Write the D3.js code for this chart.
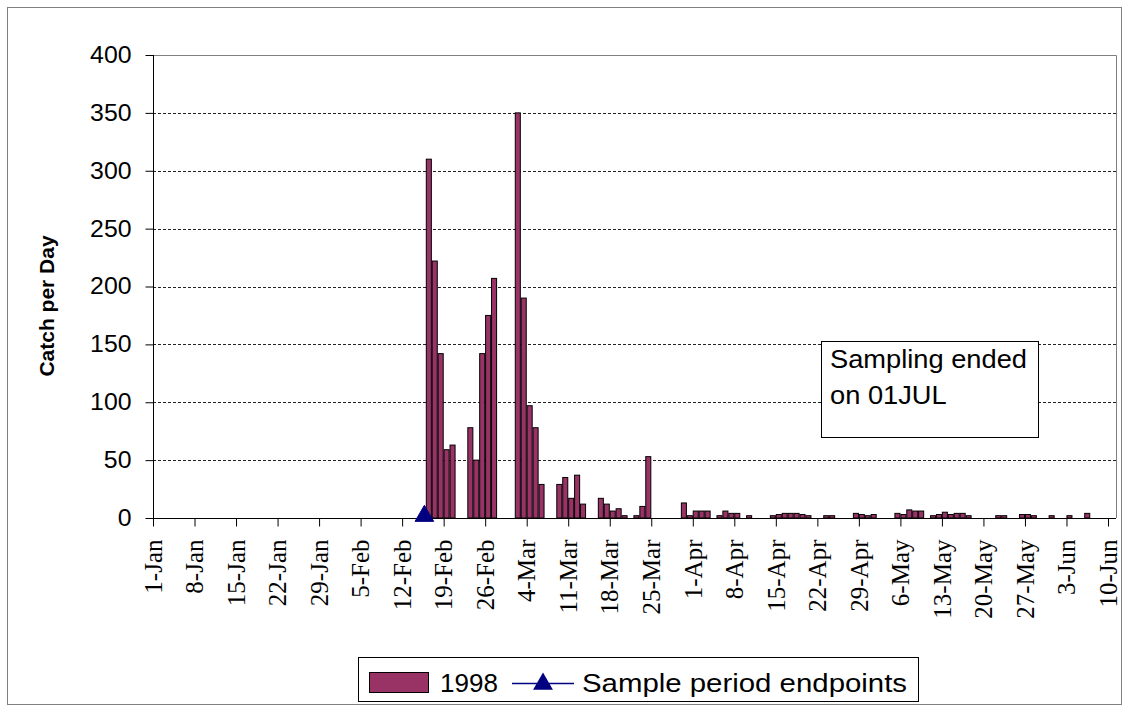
<!DOCTYPE html>
<html>
<head>
<meta charset="utf-8">
<script src="https://cdn.jsdelivr.net/npm/d3@7"></script>
<style>
  html, body { margin: 0; padding: 0; background: #fff; }
  svg { display: block; }
</style>
</head>
<body>
<svg id="chart" width="1130" height="713"></svg>
<script>
// ---------- DATA ----------
const catchDates = ["16-Feb","17-Feb","18-Feb","19-Feb","20-Feb","23-Feb","24-Feb","25-Feb","26-Feb","27-Feb",
  "2-Mar","3-Mar","4-Mar","5-Mar","6-Mar","9-Mar","10-Mar","11-Mar","12-Mar","13-Mar",
  "16-Mar","17-Mar","18-Mar","19-Mar","20-Mar","22-Mar","23-Mar","24-Mar","30-Mar","31-Mar",
  "1-Apr","2-Apr","3-Apr","5-Apr","6-Apr","7-Apr","8-Apr","10-Apr","14-Apr","15-Apr",
  "16-Apr","17-Apr","18-Apr","19-Apr","20-Apr","23-Apr","24-Apr","28-Apr","29-Apr","30-Apr",
  "1-May","5-May","6-May","7-May","8-May","9-May","11-May","12-May","13-May","14-May",
  "15-May","16-May","17-May","22-May","23-May","26-May","27-May","28-May","31-May","3-Jun","6-Jun"];
const catch1998 = [310,222,142,59,63,78,50,142,175,207,
  350,190,97,78,29,29,35,17,37,12,
  17,12,6,8,2,2,10,53,13,2,
  6,6,6,2,6,4,4,2,2,3,
  4,4,4,3,2,2,2,4,3,2,
  3,4,3,7,6,6,2,3,5,3,
  4,4,2,2,2,3,3,2,2,2,4];
const endpointDates = ["15-Feb","1-Jul"];
const endpointValues = [0, 0];
const yTickValues = [0,50,100,150,200,250,300,350,400];
const xTickLabels = ["1-Jan","8-Jan","15-Jan","22-Jan","29-Jan","5-Feb","12-Feb","19-Feb","26-Feb","4-Mar",
  "11-Mar","18-Mar","25-Mar","1-Apr","8-Apr","15-Apr","22-Apr","29-Apr","6-May","13-May",
  "20-May","27-May","3-Jun","10-Jun"];
const seriesNames = ["1998", "Sample period endpoints"];
const noteLines = ["Sampling ended", "on 01JUL"];
const yTitle = "Catch per Day";

// ---------- SETUP ----------
// axis dates fall on a leap-year calendar (26-Feb + 7 days = 4-Mar)
const parse = s => d3.timeParse("%d-%b-%Y")(s + "-2000");
const svg = d3.select("#chart");
const plot = {left: 153, right: 1116, top: 55, bottom: 518};
const BAR = "#993366", NAVY = "#000080";
const sans = "'Liberation Sans', Arial, sans-serif";
const serif = "'Liberation Serif', 'Times New Roman', serif";

function stretch(sel, k) {
  sel.each(function() {
    const len = this.getComputedTextLength();
    d3.select(this).attr("textLength", len * k).attr("lengthAdjust", "spacingAndGlyphs");
  });
}

// outer chart border
svg.append("rect").attr("x", 7.5).attr("y", 7.5).attr("width", 1114).attr("height", 697)
  .attr("fill", "#fff").attr("stroke", "#808080").attr("stroke-width", 1);

const xTicks = xTickLabels.map(parse);
const t0 = xTicks[0], tLast = xTicks[xTicks.length - 1];
const x = d3.scaleTime().domain([t0, tLast]).range([plot.left, 1108]);
const y = d3.scaleLinear().domain([0, 400]).range([plot.bottom, plot.top]);
const dayPx = x(d3.timeDay.offset(t0, 1)) - x(t0);

// gridlines
svg.append("g").selectAll("line").data(yTickValues.filter(v => v > 0 && v < 400)).join("line")
  .attr("x1", plot.left).attr("x2", plot.right)
  .attr("y1", d => Math.round(y(d)) + 0.5).attr("y2", d => Math.round(y(d)) + 0.5)
  .attr("stroke", "#222").attr("stroke-width", 1).attr("stroke-dasharray", "3,2");

// plot frame top & right
svg.append("path")
  .attr("d", `M${plot.left},${plot.top + 0.5}H${plot.right + 0.5}V${plot.bottom}`)
  .attr("fill", "none").attr("stroke", "#808080").attr("stroke-width", 1);

// bars
const barW = dayPx * 0.85;
svg.append("g").selectAll("rect").data(catchDates.map((d, i) => ({date: parse(d), v: catch1998[i]}))).join("rect")
  .attr("x", d => x(d3.timeHour.offset(d.date, 12)) - barW / 2)
  .attr("y", d => y(d.v))
  .attr("width", barW)
  .attr("height", d => y(0) - y(d.v))
  .attr("fill", BAR).attr("stroke", "#000").attr("stroke-width", 1);

// x axis
const xAxis = d3.axisBottom(x).tickValues(xTicks).tickSize(8).tickFormat(d3.timeFormat("%-d-%b"));
const gx = svg.append("g").attr("transform", `translate(0,${plot.bottom + 0.5})`).call(xAxis);
gx.select(".domain").attr("d", `M${plot.left},0H${plot.right}`).attr("stroke", "#000");
gx.selectAll(".tick line").attr("stroke", "#000");
gx.selectAll(".tick text")
  .attr("font-family", serif).attr("font-size", 25).attr("fill", "#000")
  .attr("text-anchor", "end")
  .attr("transform", "rotate(-90)")
  .attr("x", -21).attr("y", 0).attr("dy", "0.33em");

// y axis
const yAxis = d3.axisLeft(y).tickValues(yTickValues).tickSize(8).tickPadding(14);
const gy = svg.append("g").attr("transform", `translate(${plot.left + 0.5},0)`).call(yAxis);
gy.select(".domain").attr("stroke", "#000").attr("d", `M0,${plot.top}V${plot.bottom}`);
gy.selectAll(".tick line").attr("stroke", "#000");
gy.selectAll(".tick text").attr("font-family", sans).attr("font-size", 23).attr("fill", "#000");
stretch(gy.selectAll(".tick text"), 1.08);

// y title
svg.append("text")
  .attr("transform", `translate(54,306) rotate(-90)`)
  .attr("text-anchor", "middle")
  .attr("font-family", sans).attr("font-weight", "bold").attr("font-size", 21)
  .text(yTitle);

// endpoint markers (only those inside the axis range)
const tri = d3.symbol().type(d3.symbolTriangle).size(150);
const xMaxDate = d3.timeDay.offset(tLast, 1);
svg.append("g").selectAll("path")
  .data(endpointDates.map((d, i) => ({date: parse(d), v: endpointValues[i]})).filter(d => d.date <= xMaxDate))
  .join("path")
  .attr("d", tri)
  .attr("transform", d => `translate(${x(d3.timeHour.offset(d.date, 12)) + 1.5},${y(d.v) - 2})`)
  .attr("fill", NAVY).attr("stroke", NAVY);

// note box
svg.append("rect").attr("x", 821.5).attr("y", 341.5).attr("width", 217).attr("height", 96)
  .attr("fill", "#fff").attr("stroke", "#000");
const note = svg.append("text").attr("font-family", sans).attr("font-size", 25).attr("fill", "#000");
noteLines.forEach((l, i) => {
  note.append("tspan").attr("x", 830).attr("y", 368 + i * 36).text(l);
});
stretch(note.selectAll("tspan"), 1.09);

// legend
const lg = svg.append("g");
lg.append("rect").attr("x", 358.5).attr("y", 657.5).attr("width", 560).attr("height", 44)
  .attr("fill", "#fff").attr("stroke", "#000");
lg.append("rect").attr("x", 369.5).attr("y", 672.5).attr("width", 59).attr("height", 20)
  .attr("fill", BAR).attr("stroke", "#000");
lg.append("text").attr("x", 440).attr("y", 692).attr("font-family", sans).attr("font-size", 26).text(seriesNames[0]);
lg.append("line").attr("x1", 512).attr("x2", 574).attr("y1", 683.5).attr("y2", 683.5).attr("stroke", NAVY).attr("stroke-width", 1.5);
lg.append("path").attr("d", d3.symbol().type(d3.symbolTriangle).size(170)).attr("transform", "translate(543,684)").attr("fill", NAVY);
const l2 = lg.append("text").attr("x", 582).attr("y", 692).attr("font-family", sans).attr("font-size", 26).text(seriesNames[1]);
stretch(l2, 1.13);
</script>
</body>
</html>
